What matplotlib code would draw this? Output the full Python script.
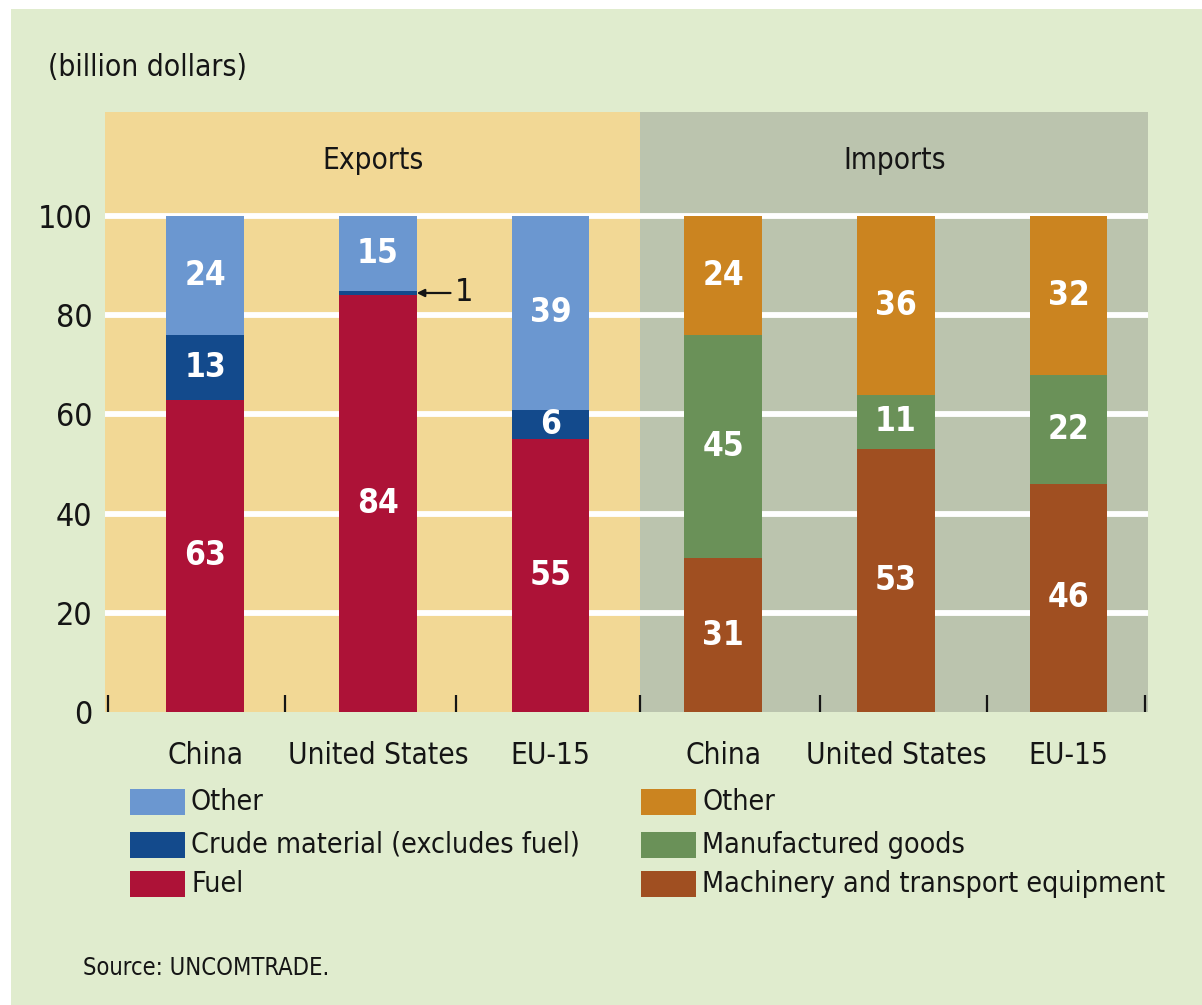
import matplotlib
matplotlib.use("Agg")
import matplotlib.pyplot as plt
import numpy as np
from matplotlib.patches import Rectangle
from matplotlib import font_manager
from matplotlib.font_manager import FontProperties
import os

# ---------------- data ----------------
countries = ["China", "United States", "EU-15"]
groups = ["Exports", "Imports"]

exp_fuel = [63, 84, 55]
exp_crude = [13, 1, 6]
exp_other = [24, 15, 39]

imp_machinery = [31, 53, 46]
imp_manufactured = [45, 11, 22]
imp_other = [24, 36, 32]

exp_legend = ["Other", "Crude material (excludes fuel)", "Fuel"]
imp_legend = ["Other", "Manufactured goods", "Machinery and transport equipment"]

yticks = [0, 20, 40, 60, 80, 100]
unit_label = "(billion dollars)"
source_text = "Source: UNCOMTRADE."

# ---------------- fonts ----------------
files = {os.path.basename(p): p for p in font_manager.findSystemFonts()}
reg_path = None
bold_path = None
for r, b in [("LiberationSansNarrow-Regular.ttf", "LiberationSansNarrow-Bold.ttf"),
             ("DejaVuSansCondensed.ttf", "DejaVuSansCondensed-Bold.ttf")]:
    if r in files:
        reg_path = files[r]
        bold_path = files.get(b, files[r])
        break

def fp(size, bold=False):
    if reg_path:
        return FontProperties(fname=bold_path if bold else reg_path, size=size)
    return FontProperties(family="DejaVu Sans", size=size * 0.9, weight="bold" if bold else "normal")

C_EXP_OTHER = "#6b97d0"
C_CRUDE = "#134a8c"
C_FUEL = "#ad1237"
C_IMP_OTHER = "#cb8420"
C_MANUF = "#6a9158"
C_MACH = "#a04f21"
BG_EXP = "#f2d895"
BG_IMP = "#bbc4ae"
BG_FIG = "#e0ecce"
TXT = "#151515"

FS = 21.3

W, H = 1202, 1005
fig = plt.figure(figsize=(W / 100, H / 100), dpi=100, facecolor="white")
fig.patches.append(Rectangle((11 / W, 0), 1 - 11 / W, 1 - 9 / H, transform=fig.transFigure,
                             facecolor=BG_FIG, edgecolor="none", zorder=-10))

ax = fig.add_axes([105 / W, 1 - 712 / H, (1148 - 105) / W, (712 - 112) / H])
ax.set_facecolor("none")
for s in ax.spines.values():
    s.set_visible(False)

xlim = (-0.58, 5.46)
split = 2.52
ax.set_xlim(*xlim)
ax.set_ylim(0, 121)
ax.axvspan(xlim[0], split, color=BG_EXP, zorder=0, lw=0)
ax.axvspan(split, xlim[1], color=BG_IMP, zorder=0, lw=0)

for y in yticks[1:]:
    ax.axhline(y, color="white", lw=4.2, zorder=1)

bw = 0.45
xe = np.arange(3)
xi = np.arange(3) + 3

def stack(xs, series, colors, show):
    bottom = np.zeros(len(xs))
    for vals, col in zip(series, colors):
        vals = np.array(vals, dtype=float)
        ax.bar(xs, vals, bw, bottom=bottom, color=col, zorder=2, lw=0)
        for x, b, v in zip(xs, bottom, vals):
            if v >= show:
                ax.text(x, b + v / 2, f"{int(v)}", ha="center", va="center", color="white",
                        fontproperties=fp(24, bold=True), zorder=3)
        bottom += vals

stack(xe, [exp_fuel, exp_crude, exp_other], [C_FUEL, C_CRUDE, C_EXP_OTHER], 3)
stack(xi, [imp_machinery, imp_manufactured, imp_other], [C_MACH, C_MANUF, C_IMP_OTHER], 3)

# annotation for the small crude value of United States exports
us_mid = exp_fuel[1] + exp_crude[1] / 2
ax.annotate(f"{exp_crude[1]}", xy=(xe[1] + bw / 2, us_mid), xytext=(xe[1] + bw / 2 + 0.22, us_mid),
            ha="left", va="center", fontproperties=fp(23), color=TXT, zorder=4,
            arrowprops=dict(arrowstyle="-|>", color=TXT, lw=1.6, shrinkA=1, shrinkB=0,
                            mutation_scale=11))

# group headers
ax.text(0.97, 111.3, groups[0], ha="center", va="center", fontproperties=fp(FS), color=TXT)
ax.text(3.99, 111.3, groups[1], ha="center", va="center", fontproperties=fp(FS), color=TXT)

# axes ticks
ax.set_yticks(yticks)
ax.set_yticklabels([str(v) for v in yticks], color=TXT)
for t in ax.get_yticklabels():
    t.set_fontproperties(fp(23))
ax.tick_params(axis="y", length=0, pad=9)
ax.set_xticks(list(xe) + list(xi))
ax.set_xticklabels(countries + countries, color=TXT)
for t in ax.get_xticklabels():
    t.set_fontproperties(fp(FS))
ax.tick_params(axis="x", which="major", length=0, pad=21)
ax.set_xticks([-0.56, 0.46, 1.45, split, 3.56, 4.53, 5.44], minor=True)
ax.tick_params(axis="x", which="minor", direction="in", length=12, width=1.6, color=TXT)

# unit label
fig.text(48 / W, 1 - 67 / H, unit_label, ha="left", va="center", fontproperties=fp(21.5), color=TXT)

# legends (manual)
def legend_col(x0, labels, colors):
    ys = [802, 845, 884]
    for lab, col, y in zip(labels, colors, ys):
        fig.patches.append(Rectangle((x0 / W, 1 - (y + 13) / H), 55 / W, 26 / H,
                                     transform=fig.transFigure, facecolor=col, edgecolor="none"))
        fig.text((x0 + 61) / W, 1 - y / H, lab, ha="left", va="center", fontproperties=fp(20.5),
                 color=TXT)

legend_col(130, exp_legend, [C_EXP_OTHER, C_CRUDE, C_FUEL])
legend_col(641, imp_legend, [C_IMP_OTHER, C_MANUF, C_MACH])

fig.text(83 / W, 1 - 968 / H, source_text, ha="left", va="center", fontproperties=fp(17),
         color=TXT)

fig.savefig("out.png", dpi=100, facecolor=fig.get_facecolor())
